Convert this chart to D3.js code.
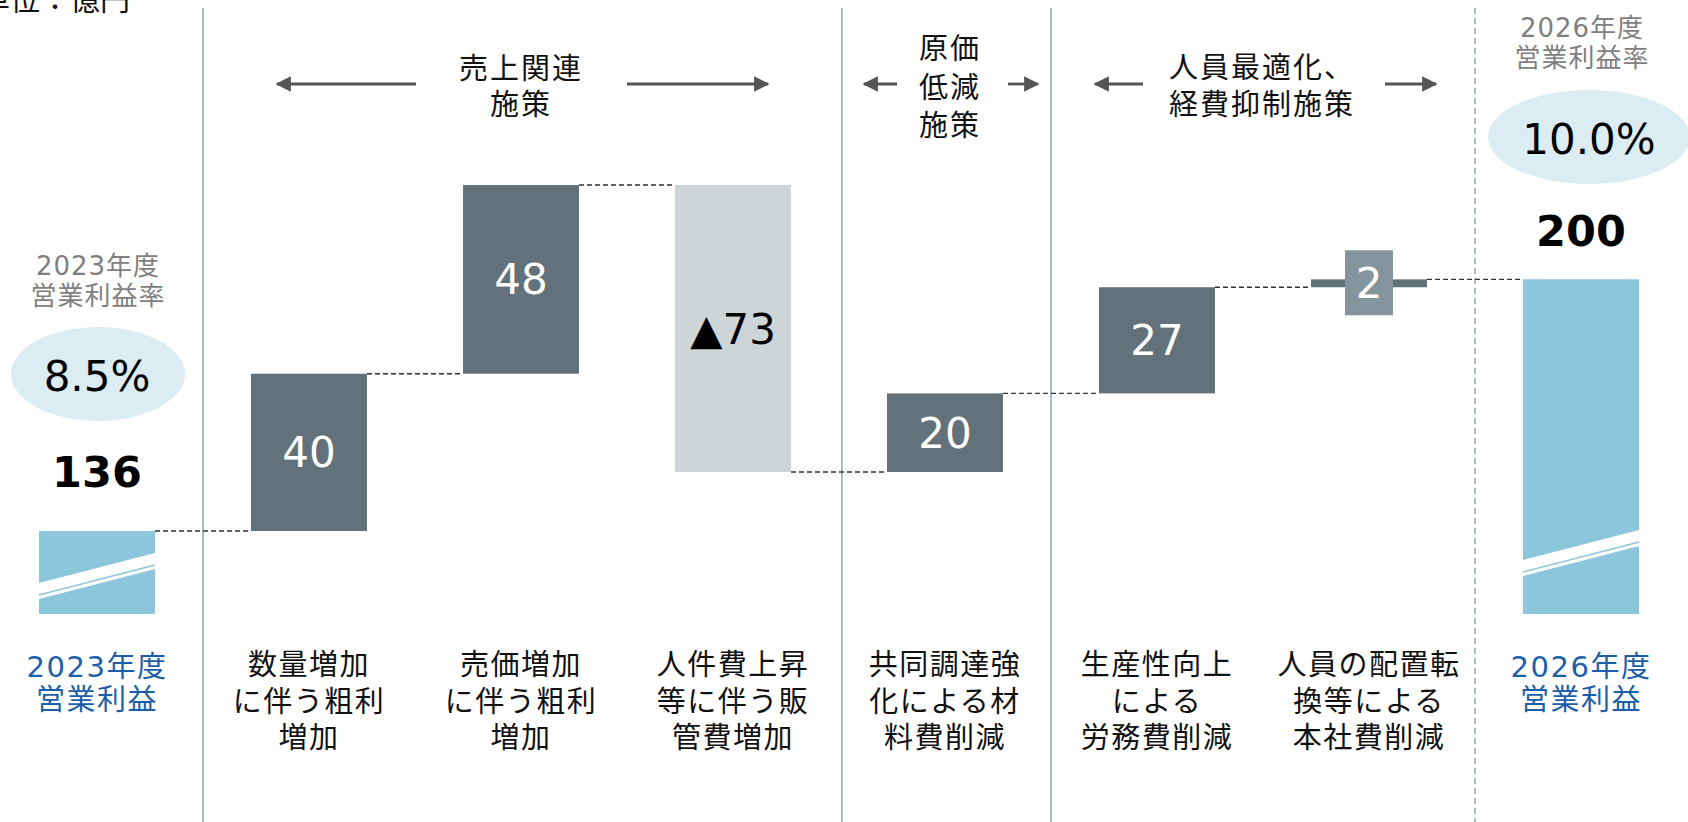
<!DOCTYPE html>
<html>
<head>
<meta charset="utf-8">
<script src="https://cdnjs.cloudflare.com/ajax/libs/d3/7.8.5/d3.min.js"></script>
<style>
  body { margin: 0; background: #fff; overflow: hidden; }
  svg { display: block; font-family: "DejaVu Sans", "Noto Sans CJK JP", sans-serif; }
</style>
</head>
<body>
<script>
// --- data ---
let categoryLines = [
  ['2023年度', '営業利益'],
  ['数量増加', 'に伴う粗利', '増加'],
  ['売価増加', 'に伴う粗利', '増加'],
  ['人件費上昇', '等に伴う販', '管費増加'],
  ['共同調達強', '化による材', '料費削減'],
  ['生産性向上', 'による', '労務費削減'],
  ['人員の配置転', '換等による', '本社費削減'],
  ['2026年度', '営業利益']
];
let startValue = 136;
let deltas = [40, 48, -73, 20, 27, 2];
let endValue = 200;
let valueLabels = ['136', '40', '48', '▲73', '20', '27', '2', '200'];
let marginYears = [['2023年度', '営業利益率'], ['2026年度', '営業利益率']];
let marginRates = ['8.5%', '10.0%'];
let groupLines = [['売上関連', '施策'], ['原価', '低減', '施策'], ['人員最適化、', '経費抑制施策']];
let unitLabel = '単位：億円';

// --- layout ---
let svgWidth = 1688;
let svgHeight = 822;
let baseY = 614;
let colors = {
  up: '#62717a',
  down: '#cdd5d9',
  total: '#8bc6da',
  box: '#85959e',
  ellipse: '#dbedf3',
  blue: '#1b5faa',
  grey: '#7f7f7f',
  divider: '#8e9ca6',
  arrow: '#555555'
};

let svg = d3.select('body')
  .append('svg')
  .attr('width', svgWidth)
  .attr('height', svgHeight);

// running totals
let steps = [];
let running = startValue;
steps.push({ i: 0, y0: 0, y1: startValue, kind: 'total' });
deltas.forEach(function (d, k) {
  let from = running;
  running += d;
  steps.push({ i: k + 1, y0: from, y1: running, kind: d < 0 ? 'down' : 'up' });
});
steps.push({ i: deltas.length + 1, y0: 0, y1: endValue, kind: 'total' });
let totals = steps.map(d => d.y1);

let x = d3.scaleBand()
  .domain(d3.range(categoryLines.length))
  .range([-9, 1687])
  .paddingInner(0.4528)
  .paddingOuter(0.2264);

let y = d3.scaleLinear()
  .domain(d3.extent(totals))
  .range([531, 185]);

let bw = x.bandwidth();
let cx = i => x(i) + bw / 2;
let divX = i => (x(i) + bw + x(i + 1)) / 2;

// dividers between groups, dashed one before the result column
[0, 3, 4].forEach(function (i) {
  svg.append('line')
    .attr('x1', divX(i) + (i === 3 ? 3 : 0)).attr('x2', divX(i) + (i === 3 ? 3 : 0))
    .attr('y1', 8).attr('y2', svgHeight)
    .attr('stroke', colors.divider)
    .attr('stroke-width', 1.4);
});
svg.append('line')
  .attr('x1', divX(6)).attr('x2', divX(6))
  .attr('y1', 8).attr('y2', svgHeight)
  .attr('stroke', colors.divider)
  .attr('stroke-width', 1.4)
  .attr('stroke-dasharray', '6,4');

// unit
svg.append('text')
  .attr('x', 130).attr('y', 10)
  .attr('text-anchor', 'end')
  .attr('font-size', '30px')
  .attr('fill', '#111')
  .text(unitLabel);

// connectors
for (let k = 0; k < steps.length - 1; k++) {
  let level = steps[k].y1;
  svg.append('line')
    .attr('x1', x(k) + bw).attr('x2', x(k + 1))
    .attr('y1', y(level)).attr('y2', y(level))
    .attr('stroke', '#333')
    .attr('stroke-width', 1.4)
    .attr('stroke-dasharray', '5,3');
}

// floating bars
let floats = steps.filter(d => d.kind !== 'total');
svg.selectAll('.float')
  .data(floats)
  .enter()
  .append('rect')
  .attr('class', 'float')
  .attr('x', d => x(d.i))
  .attr('width', bw)
  .attr('y', d => y(Math.max(d.y0, d.y1)))
  .attr('height', d => Math.abs(y(d.y0) - y(d.y1)))
  .attr('fill', d => d.kind === 'down' ? colors.down : colors.up);

// broken total bars
let breaks = [583, 560];
let totalBars = steps.filter(d => d.kind === 'total');
totalBars.forEach(function (d, k) {
  let x0 = x(d.i), x1 = x(d.i) + bw;
  let top = y(d.y1);
  let b = breaks[k];
  let drop = 30;
  svg.append('path')
    .attr('d', `M${x0},${top}H${x1}V${b - drop}L${x0},${b}Z`)
    .attr('fill', colors.total);
  svg.append('path')
    .attr('d', `M${x0},${b + 16}L${x1},${b + 16 - drop}V${baseY}H${x0}Z`)
    .attr('fill', colors.total);
  svg.append('line')
    .attr('x1', x0).attr('y1', b + 12)
    .attr('x2', x1).attr('y2', b + 12 - drop)
    .attr('stroke', colors.total)
    .attr('stroke-width', 1.5);
});

// value labels inside bars
floats.forEach(function (d) {
  let mid = (y(d.y0) + y(d.y1)) / 2;
  let small = Math.abs(y(d.y0) - y(d.y1)) < 40;
  if (small) {
    svg.append('rect')
      .attr('x', cx(d.i) - 24).attr('y', mid - 33)
      .attr('width', 48).attr('height', 65)
      .attr('fill', colors.box);
  }
  svg.append('text')
    .attr('x', cx(d.i))
    .attr('y', mid)
    .attr('dy', '0.36em')
    .attr('text-anchor', 'middle')
    .attr('font-size', '42px')
    .attr('fill', d.kind === 'down' ? '#000' : '#fff')
    .text(valueLabels[d.i]);
});

// total annotations
let totalLabelY = [472, 231];
let ellipseY = [374, 137];
let yearY = [265, 27];
totalBars.forEach(function (d, k) {
  let c = cx(d.i);
  svg.append('text')
    .attr('x', c).attr('y', totalLabelY[k])
    .attr('dy', '0.36em')
    .attr('text-anchor', 'middle')
    .attr('font-size', '43px')
    .attr('font-weight', 'bold')
    .attr('fill', '#000')
    .text(valueLabels[d.i]);
  svg.append('ellipse')
    .attr('cx', c + (k === 0 ? 1 : 8)).attr('cy', ellipseY[k])
    .attr('rx', k === 0 ? 87 : 101).attr('ry', 47)
    .attr('fill', colors.ellipse);
  svg.append('text')
    .attr('x', c + (k === 0 ? 0 : 8)).attr('y', ellipseY[k] + 2)
    .attr('dy', '0.36em')
    .attr('text-anchor', 'middle')
    .attr('font-size', '42px')
    .attr('fill', '#000')
    .text(marginRates[k]);
  marginYears[k].forEach(function (line, j) {
    svg.append('text')
      .attr('x', c + 1).attr('y', yearY[k] + j * 30)
      .attr('dy', '0.38em')
      .attr('text-anchor', 'middle')
      .attr('font-size', '26px')
      .attr('letter-spacing', '1px')
      .attr('fill', colors.grey)
      .text(line);
  });
});

// category labels
categoryLines.forEach(function (lines, i) {
  let isTotal = i === 0 || i === categoryLines.length - 1;
  lines.forEach(function (line, j) {
    svg.append('text')
      .attr('x', cx(i)).attr('y', (isTotal ? 666 : 664) + j * (isTotal ? 33 : 36.5))
      .attr('dy', '0.38em')
      .attr('text-anchor', 'middle')
      .attr('font-size', '29px')
      .attr('letter-spacing', '1.5px')
      .attr('fill', isTotal ? colors.blue : '#111')
      .text(line);
  });
});

// group headers with arrows
svg.append('defs').append('marker')
  .attr('id', 'head')
  .attr('viewBox', '0 0 10 10')
  .attr('refX', 9).attr('refY', 5)
  .attr('markerWidth', 5.5).attr('markerHeight', 5.5)
  .attr('markerUnits', 'strokeWidth')
  .attr('orient', 'auto')
  .append('path')
  .attr('d', 'M0,0L10,5L0,10Z')
  .attr('fill', colors.arrow);

let groupCenter = [521, 950, 1262];
let groupTop = [68, 48, 67];
let groupStep = [36, 38.5, 36.5];
let arrowSpans = [[105, 244, 106, 247], [53, 86, 58, 88], [119, 167, 123, 174]];
groupLines.forEach(function (lines, g) {
  let c = groupCenter[g];
  lines.forEach(function (line, j) {
    svg.append('text')
      .attr('x', c).attr('y', groupTop[g] + j * groupStep[g])
      .attr('dy', '0.38em')
      .attr('text-anchor', 'middle')
      .attr('font-size', '29px')
      .attr('letter-spacing', '2px')
      .attr('fill', '#111')
      .text(line);
  });
  let s = arrowSpans[g];
  svg.append('line')
    .attr('x1', c - s[0]).attr('x2', c - s[1])
    .attr('y1', 84).attr('y2', 84)
    .attr('stroke', colors.arrow).attr('stroke-width', 2.8)
    .attr('marker-end', 'url(#head)');
  svg.append('line')
    .attr('x1', c + s[2]).attr('x2', c + s[3])
    .attr('y1', 84).attr('y2', 84)
    .attr('stroke', colors.arrow).attr('stroke-width', 2.8)
    .attr('marker-end', 'url(#head)');
});
</script>
</body>
</html>
